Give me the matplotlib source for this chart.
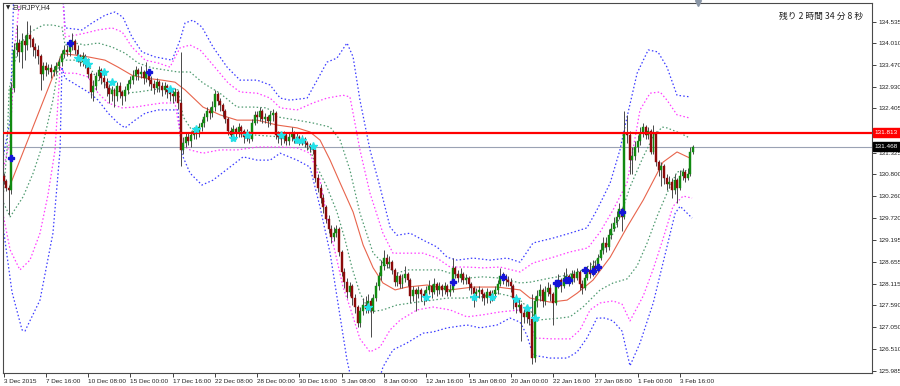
import matplotlib
matplotlib.use("Agg")
import matplotlib.pyplot as plt
import matplotlib.transforms as mtransforms

plt.rcParams['font.family'] = ['Liberation Sans', 'DejaVu Sans']

# EURJPY H4 candles (open of each bar = previous close)
first_open = 130.75
closes = [
    130.62, 130.45, 130.40, 132.90, 133.85, 134.00, 133.80, 134.05, 133.95, 134.20,
    134.10, 133.90, 133.85, 133.70, 133.25, 133.45, 133.35, 133.40, 133.30, 133.35,
    133.45, 133.55, 133.75, 133.85, 133.80, 133.95, 134.05, 133.85, 133.70, 133.55,
    133.70, 133.60, 133.25, 132.80, 132.95, 133.20, 133.35, 133.15, 133.05, 132.90,
    132.75, 132.85, 132.70, 132.95, 132.80, 132.70, 132.85, 133.00, 133.10, 133.20,
    133.35, 133.25, 133.30, 133.15, 133.30, 133.10, 133.00, 132.90, 133.05, 132.95,
    132.85, 132.95, 132.80, 132.75, 132.70, 132.80, 132.55, 131.40, 131.55, 131.70,
    131.60, 131.75, 131.85, 131.80, 131.95, 132.05, 132.20, 132.35, 132.30, 132.45,
    132.75, 132.60, 132.50, 132.35, 132.15, 131.85, 131.75, 131.90, 131.80, 131.95,
    131.85, 131.70, 131.80, 131.65, 132.05, 132.25, 132.20, 132.35, 132.15, 132.20,
    132.10, 132.25, 132.30, 131.75, 131.70, 131.65, 131.75, 131.60, 131.70, 131.80,
    131.65, 131.70, 131.60, 131.65, 131.55, 131.50, 131.45, 131.40, 130.70, 130.45,
    130.20, 130.00, 129.70, 129.45, 129.25, 129.35, 129.45, 128.90, 128.40, 128.15,
    127.90, 128.05, 127.75, 127.55, 127.15, 127.45, 127.60, 127.50, 127.70, 127.45,
    127.75, 128.05, 128.30, 128.55, 128.75, 128.60, 128.65, 128.45, 128.15, 128.30,
    128.10, 128.25, 128.35, 128.20, 127.80, 127.95, 127.85, 127.95, 127.85, 127.80,
    127.95, 128.05, 127.90, 128.10, 127.95, 128.05, 127.95, 128.05, 127.90, 127.95,
    128.50, 128.35, 128.25, 128.35, 128.20, 128.25, 128.10, 128.00, 127.85, 127.90,
    127.95, 127.85, 127.75, 127.90, 127.80, 127.85, 127.95, 128.10, 128.30, 128.25,
    128.20, 128.15, 128.05, 127.75, 127.55, 127.60, 127.40, 127.30, 127.45, 127.25,
    126.30, 127.70, 127.80, 127.95, 127.70, 127.90, 128.00, 127.85, 127.65, 128.10,
    128.20, 128.05, 128.25, 128.30, 128.15, 128.35, 128.25, 128.40, 128.10, 128.00,
    128.25, 128.45, 128.35, 128.55, 128.45, 128.75, 128.95, 129.10, 129.00, 129.30,
    129.45, 129.60, 129.75, 129.95, 129.75, 131.80, 131.75, 131.15, 131.25, 131.45,
    131.60, 131.80, 131.95, 131.75, 131.85, 131.35, 131.80, 131.10, 130.90, 131.00,
    130.70, 130.55, 130.60, 130.40, 130.65, 130.45, 130.75, 130.85, 130.70, 130.80,
    131.35, 131.468,
]
highs = [
    130.82, 130.68, 130.52, 133.05, 134.00, 134.45, 134.10, 134.25, 134.20, 134.55,
    134.45, 134.15, 134.00, 133.95, 133.75, 133.55, 133.55, 133.50, 133.50, 133.45,
    133.55, 133.65, 133.85, 133.95, 133.95, 134.05, 134.25, 134.10, 133.95, 133.75,
    133.80, 133.75, 133.65, 133.30, 133.10, 133.30, 133.45, 133.40, 133.25, 133.15,
    133.00, 132.95, 132.90, 133.05, 133.05, 132.85, 132.95, 133.10, 133.20, 133.35,
    133.45, 133.40, 133.45, 133.35, 133.55, 133.35, 133.20, 133.10, 133.15, 133.10,
    133.05, 133.05, 133.00, 132.90, 132.85, 132.90, 132.85, 133.80, 131.70, 131.80,
    131.80, 131.85, 131.95, 131.95, 132.05, 132.15, 132.30, 132.45, 132.45, 132.60,
    132.85, 132.80, 132.65, 132.55, 132.40, 132.20, 131.95, 132.00, 131.95, 132.05,
    132.00, 131.90, 131.90, 131.85, 132.15, 132.35, 132.35, 132.45, 132.40, 132.30,
    132.25, 132.35, 132.40, 132.35, 131.85, 131.80, 131.85, 131.80, 131.80, 131.95,
    131.85, 131.80, 131.75, 131.75, 131.70, 131.60, 131.55, 131.50, 131.45, 130.80,
    130.55, 130.30, 130.05, 129.80, 129.55, 129.50, 129.55, 129.50, 128.95, 128.50,
    128.25, 128.15, 128.10, 127.85, 127.60, 127.55, 127.75, 127.80, 127.85, 127.75,
    127.85, 128.15, 128.40, 128.70, 128.95, 128.85, 128.80, 128.70, 128.50, 128.40,
    128.35, 128.35, 128.55, 128.40, 128.25, 128.05, 128.00, 128.05, 128.00, 127.95,
    128.05, 128.20, 128.10, 128.25, 128.15, 128.15, 128.10, 128.15, 128.10, 128.10,
    128.75, 128.55, 128.45, 128.50, 128.40, 128.35, 128.30, 128.15, 128.05, 128.00,
    128.05, 128.00, 127.90, 128.00, 127.95, 127.95, 128.05, 128.20, 128.50, 128.40,
    128.35, 128.30, 128.25, 128.10, 127.85, 127.75, 127.65, 127.50, 127.55, 127.50,
    127.85, 127.80, 127.95, 128.10, 128.00, 128.05, 128.15, 128.10, 127.90, 128.20,
    128.35, 128.25, 128.40, 128.50, 128.35, 128.45, 128.45, 128.50, 128.45, 128.20,
    128.35, 128.55, 128.65, 128.70, 128.70, 128.85, 129.10, 129.25, 129.25, 129.45,
    129.60, 129.75, 129.90, 130.10, 130.00, 132.35, 132.25, 131.85, 131.45, 131.60,
    131.75, 131.95, 132.05, 132.00, 131.95, 131.90, 132.00, 131.85, 131.15, 131.10,
    131.05, 130.80, 130.75, 130.70, 130.80, 130.70, 130.90, 130.95, 130.90, 130.95,
    131.45, 131.50,
]
lows = [
    130.55, 130.38, 129.80, 130.30, 132.80, 133.70, 133.55, 133.40, 133.60, 133.85,
    133.90, 133.70, 133.65, 133.50, 132.85, 133.10, 133.20, 133.25, 133.15, 133.20,
    133.25, 133.35, 133.45, 133.65, 133.70, 133.70, 133.85, 133.75, 133.55, 133.45,
    133.45, 133.40, 133.15, 132.65, 132.60, 132.85, 133.10, 133.00, 132.90, 132.70,
    132.55, 132.60, 132.45, 132.60, 132.65, 132.50, 132.60, 132.75, 132.90, 133.00,
    133.10, 133.10, 133.15, 133.00, 133.05, 132.95, 132.85, 132.75, 132.80, 132.80,
    132.70, 132.75, 132.65, 132.60, 132.55, 132.60, 132.40, 131.00, 131.30, 131.45,
    131.50, 131.45, 131.65, 131.65, 131.70, 131.85, 131.95, 132.10, 132.15, 132.20,
    132.35, 132.50, 132.35, 132.20, 132.05, 131.75, 131.60, 131.65, 131.65, 131.70,
    131.70, 131.55, 131.60, 131.55, 131.60, 132.00, 132.05, 132.10, 132.05, 132.05,
    131.95, 132.00, 132.10, 131.65, 131.55, 131.50, 131.55, 131.50, 131.50, 131.60,
    131.55, 131.55, 131.50, 131.50, 131.45, 131.40, 131.35, 131.30, 130.60, 130.35,
    130.10, 129.85, 129.60, 129.35, 129.10, 129.15, 129.25, 128.80, 128.30, 128.00,
    127.75, 127.80, 127.60, 127.40, 127.05, 127.05, 127.35, 127.40, 127.40, 126.80,
    127.40, 127.70, 127.95, 128.20, 128.45, 128.50, 128.50, 128.35, 128.05, 128.05,
    128.00, 128.00, 128.15, 128.05, 127.65, 127.70, 127.45, 127.75, 127.70, 127.60,
    127.70, 127.85, 127.75, 127.85, 127.80, 127.85, 127.80, 127.85, 127.80, 127.80,
    127.90, 128.25, 128.15, 128.15, 128.10, 128.10, 127.95, 127.85, 127.55, 127.70,
    127.75, 127.70, 127.60, 127.65, 127.65, 127.70, 127.75, 127.85, 128.05, 128.10,
    128.05, 128.05, 127.90, 127.50, 127.40, 127.45, 126.70, 127.15, 127.15, 127.10,
    126.15, 126.20, 127.55, 127.70, 127.55, 127.60, 127.80, 127.70, 127.10, 127.60,
    128.00, 127.90, 128.00, 128.15, 128.05, 128.10, 128.15, 128.20, 127.95, 127.85,
    127.95, 128.20, 128.25, 128.30, 128.35, 128.40, 128.70, 128.85, 128.90, 128.95,
    129.20, 129.40, 129.50, 129.70, 129.40, 129.70, 131.55, 130.80, 130.80, 131.15,
    131.35, 131.50, 131.70, 131.65, 131.65, 131.30, 131.30, 131.00, 130.75, 130.50,
    130.55, 130.40, 130.45, 130.20, 130.30, 130.10, 130.40, 130.65, 130.60, 130.65,
    130.75, 131.30,
]

# bollinger-style bands at a set of bar positions
up3_bars = [0, 2.5, 3.2, 4, 22, 23.3, 29.7, 33.5, 38.4, 42.2, 45.2, 48.6, 52.4, 57.3, 63.8,
            66.8, 68.7, 71.7, 75.1, 79.3, 84.6, 89.5, 96, 100.9, 104.7, 108.4, 114.9, 118.7,
            122.4, 126.2, 130, 132.3, 134.9, 138.7, 142.5, 146.3, 148.9, 153.9, 158.8, 164.1,
            167.9, 171.7, 177.7, 184.1, 190.6, 195.5, 200.4, 208, 214.4, 220.8, 224.6, 229.6,
            233.3, 236, 239.8, 244, 247.7, 251.1, 254.9, 259.8]
up3_vals = [131.26, 132.12, 133.59, 135.6, 135.6, 134.38, 134.33, 134.50, 134.69, 134.77,
            134.64, 134.16, 133.79, 133.67, 133.59, 134.08, 134.50, 134.57, 134.40, 133.91,
            133.42, 133.10, 133.10, 132.98, 132.66, 132.61, 132.66, 133.10, 133.54, 133.64,
            134.01, 133.67, 132.61, 131.39, 130.48, 129.50, 129.30, 129.35, 129.18, 129.01,
            128.76, 128.69, 128.74, 128.69, 128.74, 128.64, 129.11, 129.23, 129.35, 129.48,
            129.92, 130.58, 131.39, 132.20, 133.27, 133.84, 133.79, 133.42, 132.73, 132.69]
up2_bars = [0, 2.5, 4.4, 7, 22, 23.3, 27.1, 30.8, 35.8, 41.1, 44.9, 48.6, 53.6, 58.5, 63,
            66.8, 70.6, 74.4, 79.3, 85, 89.5, 96, 100.9, 104.7, 111.1, 117.1, 122.4, 128.5,
            131.1, 132.3, 134.9, 138.7, 143.6, 147.4, 152.7, 158.8, 164.1, 169, 175.4, 181.5,
            187.9, 195.5, 200.4, 208, 214.4, 221.2, 225.8, 230.7, 236, 240.9, 244.7, 248.5,
            251.1, 254.9, 259.8]
up2_vals = [130.95, 131.63, 134.01, 135.6, 135.6, 134.16, 134.20, 134.25, 134.33, 134.38,
            134.28, 133.91, 133.59, 133.52, 133.42, 133.89, 133.96, 133.84, 133.47, 133.03,
            132.81, 132.78, 132.66, 132.42, 132.37, 132.54, 132.66, 132.73, 132.69, 132.29,
            131.39, 130.33, 129.35, 128.86, 128.86, 128.86, 128.74, 128.52, 128.52, 128.50,
            128.52, 128.40, 128.62, 128.76, 128.89, 128.99, 129.38, 129.92, 130.58, 132.37,
            132.78, 132.81, 132.61, 132.25, 132.17]
up1_bars = [0, 1.3, 2.1, 4.4, 6.2, 9.3, 15, 18.7, 22.1, 23.3, 27.1, 30.8, 35.8, 41.1, 46,
            50.9, 56.2, 61.1, 66, 70.6, 75.5, 81.9, 88.4, 94.4, 99.7, 103.5, 111.1, 117.1,
            123.6, 127.4, 131.1, 134.9, 139.9, 145.2, 148.9, 152.7, 160.3, 165.2, 169, 175.4,
            181.5, 187.9, 195.5, 199.3, 206.9, 213.3, 219.3, 224.6, 229.6, 233.3, 237.1,
            242.1, 245.9, 249.3, 251.1, 256.1, 259.8]
up1_vals = [130.36, 131.39, 132.86, 133.59, 133.96, 134.25, 134.45, 134.45, 134.40, 133.96,
            134.01, 133.96, 134.01, 133.91, 133.76, 133.52, 133.40, 133.35, 133.30, 133.30,
            133.03, 132.78, 132.44, 132.44, 132.42, 132.20, 132.12, 132.05, 131.95, 131.63,
            130.90, 129.84, 128.86, 128.52, 128.37, 128.45, 128.45, 128.45, 128.37, 128.25,
            128.28, 128.25, 128.13, 128.15, 128.25, 128.32, 128.45, 128.69, 129.18, 129.75,
            130.48, 131.22, 131.71, 131.95, 131.93, 131.80, 131.68]
mid_bars = [2.5, 22.1, 27.8, 32, 38.4, 43.3, 48.6, 53.6, 60, 64.9, 68.7, 75.5, 81.9, 88.4,
            96, 103.5, 111.1, 116, 119.8, 123.6, 127.4, 132.3, 136.1, 139.9, 143.6, 148.2,
            152.7, 160.3, 169, 177.7, 186.8, 195.5, 199.3, 206.9, 213.3, 217.1, 223.1, 229.6,
            236, 242.1, 249.6, 254.9, 259.8]
mid_vals = [130.53, 133.75, 133.71, 133.67, 133.59, 133.42, 133.22, 133.15, 133.10, 133.05,
            132.86, 132.44, 132.25, 132.12, 132.12, 132.00, 131.93, 131.83, 131.63, 131.14,
            130.58, 129.87, 129.06, 128.50, 128.13, 127.96, 128.03, 128.08, 127.96, 128.03,
            128.03, 127.96, 127.76, 127.66, 127.71, 127.88, 128.20, 128.76, 129.50, 130.16,
            131.09, 131.34, 131.19]
lo1_bars = [0, 2.5, 7.4, 11.2, 15, 18.7, 21.4, 23.3, 27.1, 32, 35.8, 41.1, 46, 50.9, 56.2,
            61.1, 66, 68, 71.7, 78.2, 86.9, 96, 104.7, 111.1, 116, 118.7, 122.4, 126.2, 129.3,
            131.9, 134.9, 138.7, 143.6, 148.9, 156.5, 162.6, 167.9, 173.9, 180.4, 186.8,
            191.7, 195.5, 199.3, 201.9, 210.6, 214.4, 219.3, 225.8, 230.7, 236, 239.8, 243.6,
            247.4, 251.1, 254.9, 259.8]
lo1_vals = [130.09, 129.75, 130.24, 130.82, 131.56, 132.61, 133.67, 133.59, 133.59, 133.47,
            133.10, 132.86, 132.78, 132.81, 132.86, 132.91, 132.86, 132.20, 131.83, 131.80,
            131.80, 131.75, 131.71, 131.63, 131.39, 130.97, 130.48, 129.87, 129.18, 128.50,
            127.88, 127.42, 127.47, 127.59, 127.66, 127.71, 127.76, 127.76, 127.78, 127.88,
            127.81, 127.71, 127.47, 127.22, 127.27, 127.30, 127.54, 127.96, 128.13, 128.23,
            128.55, 129.11, 129.77, 130.33, 130.85, 130.90]
lo2_bars = [0, 2.5, 6.2, 10, 13.8, 16.8, 19.5, 21.4, 23.3, 27.1, 32, 35.8, 39.6, 44.9, 49.8,
            54.7, 60, 64.9, 67.6, 70.6, 75.5, 81.9, 88.4, 96, 104.7, 111.1, 116, 119.8, 122.4,
            126.2, 128.5, 131.1, 134.9, 138.7, 142.5, 146.3, 150.1, 156.5, 162.6, 169, 175.4,
            181.5, 187.9, 195.5, 198.1, 201.2, 208, 214.4, 218.2, 222, 225.8, 230.7, 234.1,
            237.1, 242.1, 245.9, 249.6, 253.4, 257.2, 260.6]
lo2_vals = [129.75, 128.94, 128.45, 128.69, 129.35, 130.28, 131.39, 133.42, 133.27, 133.27,
            133.18, 132.78, 132.54, 132.42, 132.44, 132.49, 132.54, 132.54, 131.51, 131.39,
            131.31, 131.39, 131.39, 131.46, 131.46, 131.44, 131.31, 130.65, 129.75, 128.69,
            128.03, 127.54, 126.76, 126.44, 126.56, 126.98, 127.22, 127.47, 127.54, 127.47,
            127.30, 127.35, 127.42, 127.47, 127.39, 126.78, 126.76, 126.76, 126.98, 127.47,
            127.64, 127.69, 127.61, 127.20, 127.81, 128.47, 129.21, 130.01, 130.26, 130.21]
lo3_bars = [0, 3.2, 7, 8.1, 13.8, 18.7, 21.4, 22.1, 23.3, 32, 35.8, 39.6, 43.3, 46, 49.8,
            53.6, 58.5, 63.8, 66, 67.6, 70.6, 75.1, 79.3, 85.7, 90.7, 96, 100.9, 104.7, 111.1,
            116, 119.8, 123.6, 127.4, 130, 132.5, 141, 143.6, 147.4, 152.7, 158.8, 162.6,
            167.9, 175.4, 180.4, 186.8, 191.7, 195.5, 198.1, 200.4, 206.9, 213.3, 217.1,
            220.8, 224.6, 227.7, 230.7, 234.1, 237.1, 240.9, 245.9, 249.6, 254.2, 256.1, 260.6]
lo3_vals = [129.43, 127.91, 126.98, 126.95, 127.71, 129.35, 131.39, 133.42, 133.15, 132.81,
            132.61, 132.29, 132.05, 131.93, 132.12, 132.29, 132.37, 132.37, 132.37, 131.27,
            130.82, 130.53, 130.65, 130.97, 131.22, 131.14, 131.14, 131.31, 131.14, 130.97,
            129.99, 128.86, 127.30, 126.24, 125.50, 125.50, 126.07, 126.49, 126.66, 126.90,
            126.93, 127.03, 127.10, 127.03, 127.10, 127.27, 127.17, 126.85, 126.36, 126.29,
            126.29, 126.44, 126.78, 127.27, 127.27, 127.20, 126.95, 126.10, 126.66, 127.64,
            128.62, 129.84, 130.01, 129.72]

# signal arrows
buy_bars = [3, 25, 55, 170, 189, 209, 210, 213, 214, 220, 223, 225, 234]
buy_vals = [131.19, 134.01, 133.30, 128.15, 128.28, 128.13, 128.13, 128.20, 128.20,
            128.45, 128.42, 128.52, 129.87]
dot_bars = [28, 31, 32, 38, 41, 63, 73, 87, 92, 105, 111, 113, 117, 138, 160, 178, 185,
            194, 198, 201]
dot_vals = [133.64, 133.59, 133.50, 133.30, 133.05, 132.88, 131.90, 131.68, 131.75, 131.75,
            131.63, 131.63, 131.49, 127.54, 127.79, 127.79, 127.79, 127.74, 127.52, 127.27]

resistance = 131.813
last_price = 131.468

y_ticks = [134.535, 134.010, 133.470, 132.930, 132.405, 131.325, 130.800, 130.260,
           129.720, 129.195, 128.655, 128.115, 127.590, 127.050, 126.510, 125.985]
x_labels = ["3 Dec 2015", "7 Dec 16:00", "10 Dec 08:00", "15 Dec 00:00", "17 Dec 16:00",
            "22 Dec 08:00", "28 Dec 00:00", "30 Dec 16:00", "5 Jan 08:00", "8 Jan 00:00",
            "12 Jan 16:00", "15 Jan 08:00", "20 Jan 00:00", "22 Jan 16:00", "27 Jan 08:00",
            "1 Feb 00:00", "3 Feb 16:00"]
bars_per_label = 16

fig = plt.figure(figsize=(9, 3.86), dpi=100)
ax = fig.add_axes([3 / 900, 13 / 386, 869 / 900, 370 / 386])
ax.set_xlim(-0.2, 328.7)
ax.set_ylim(125.924, 134.99)

# bands
dots = (0, (1.2, 1.8))
ax.plot(up3_bars, up3_vals, color='#3a3aff', lw=0.9, ls=dots, zorder=2)
ax.plot(lo3_bars, lo3_vals, color='#3a3aff', lw=0.9, ls=dots, zorder=2)
ax.plot(up2_bars, up2_vals, color='#ff3cff', lw=0.9, ls=dots, zorder=2)
ax.plot(lo2_bars, lo2_vals, color='#ff3cff', lw=0.9, ls=dots, zorder=2)
ax.plot(up1_bars, up1_vals, color='#4f9a70', lw=0.9, ls=dots, zorder=2)
ax.plot(lo1_bars, lo1_vals, color='#4f9a70', lw=0.9, ls=dots, zorder=2)
ax.plot(mid_bars, mid_vals, color='#e8644c', lw=0.8, zorder=2)

# price lines
ax.axhline(last_price, color='#9aa2b4', lw=0.8, zorder=1)
ax.axhline(resistance, color='#ff0000', lw=1.6, zorder=6)

# candles
idx = list(range(len(closes)))
opens = [first_open] + closes[:-1]
cols = ['#118a11' if c >= o else '#8c0a0a' for o, c in zip(opens, closes)]
ax.vlines(idx, lows, highs, color='#4a4a4a', lw=0.7, zorder=3)
ax.bar(idx, [c - o for o, c in zip(opens, closes)], bottom=opens, width=0.75,
       color=cols, edgecolor=cols, lw=0.3, zorder=4)

ax.plot(buy_bars, buy_vals, ls='none', marker='P', ms=4.5, color='#1414d8', zorder=7)
ax.plot(dot_bars, dot_vals, ls='none', marker='*', ms=6, color='#22e0e8', zorder=7)

# axes styling
for s in ax.spines.values():
    s.set_color('#4a4a4a')
    s.set_linewidth(0.8)
ax.yaxis.tick_right()
ax.set_yticks(y_ticks)
ax.set_yticklabels(['%.3f' % v for v in y_ticks])
ax.tick_params(axis='y', length=3, width=0.6, labelsize=4.6, pad=1.5, colors='#222222')
ax.set_xticks([i * bars_per_label for i in range(len(x_labels))])
ax.set_xticklabels(x_labels)
for lab in ax.get_xticklabels():
    lab.set_horizontalalignment('left')
ax.tick_params(axis='x', length=3, width=0.6, labelsize=4.6, pad=1, colors='#222222')

# price boxes on the scale
trans = mtransforms.blended_transform_factory(ax.transAxes, ax.transData)
ax.text(1.003, resistance, '%.3f' % resistance, transform=trans, ha='left', va='center',
        fontsize=4.6, color='white', clip_on=False, zorder=8,
        bbox=dict(boxstyle='square,pad=0.3', fc='#ff0000', ec='#ff0000'))
ax.text(1.003, last_price, '%.3f' % last_price, transform=trans, ha='left', va='center',
        fontsize=4.6, color='white', clip_on=False, zorder=8,
        bbox=dict(boxstyle='square,pad=0.3', fc='black', ec='black'))

# header texts
ax.text(0.003, 0.988, '\u25bc', transform=ax.transAxes, fontsize=4, color='#222222',
        ha='left', va='center', family='DejaVu Sans')
ax.text(0.011, 0.988, 'EURJPY,H4', transform=ax.transAxes, fontsize=5,
        color='#222222', ha='left', va='center')
ax.text(0.893, 0.965, '残り 2 時間 34 分 8 秒', transform=ax.transAxes, fontsize=6.3,
        color='#222222', ha='left', va='center', family=['Noto Sans CJK JP', 'DejaVu Sans'])
ax.plot([len(closes) + 1], [134.99], marker='v', ms=4, color='#8a96a6', clip_on=False,
        zorder=8)

fig.savefig('out.png', dpi=100)
